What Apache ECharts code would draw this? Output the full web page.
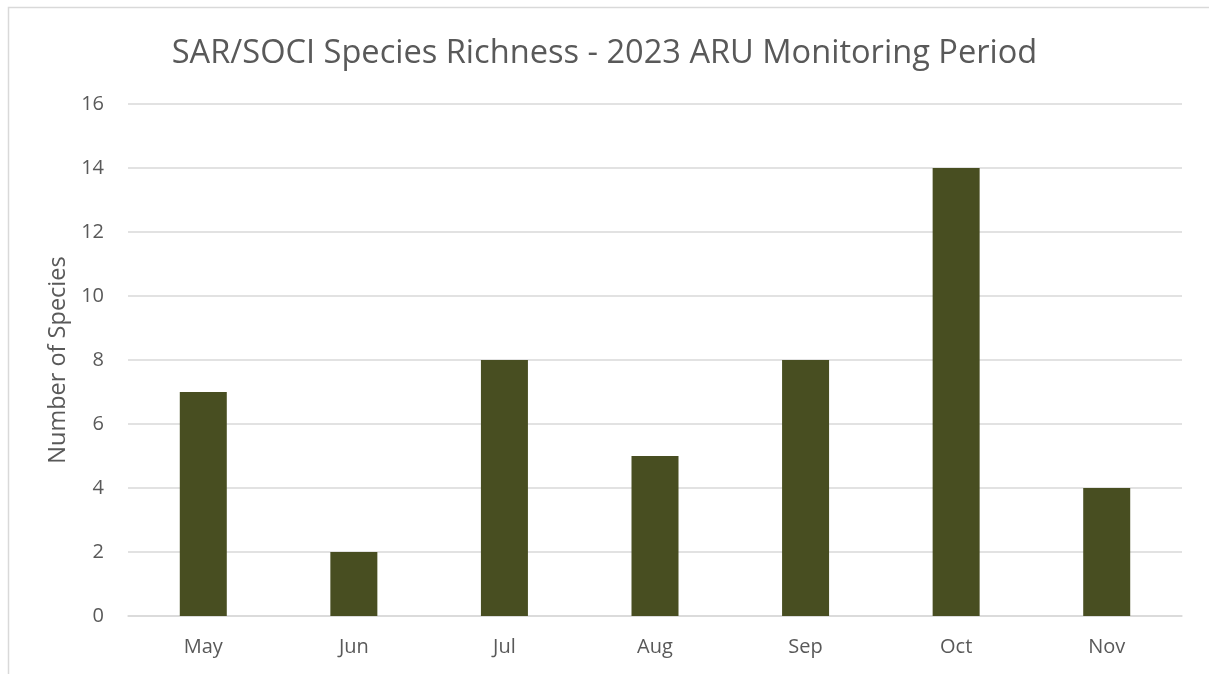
<!DOCTYPE html>
<html>
<head>
<meta charset="utf-8">
<script src="https://cdn.jsdelivr.net/npm/echarts@6/dist/echarts.min.js"></script>
<style>
html,body{margin:0;padding:0;background:#fff;}
#chart{width:1209px;height:674px;}
</style>
</head>
<body>
<div id="chart"></div>
<script>
// Monthly SAR/SOCI species counts
const months = ['May', 'Jun', 'Jul', 'Aug', 'Sep', 'Oct', 'Nov'];
const speciesCounts = [7, 2, 8, 5, 8, 14, 4];
const yTicks = { min: 0, max: 16, interval: 2 };

const textColor = '#595959';
const fontFamily = 'Open Sans, Liberation Sans, sans-serif';

const chart = echarts.init(document.getElementById('chart'));
chart.setOption({
  animation: false,
  backgroundColor: '#ffffff',
  graphic: [{
    type: 'rect',
    left: 6, top: 5,
    shape: { width: 1260, height: 720 },
    style: { fill: 'none', stroke: '#d9d9d9', lineWidth: 1.5 },
    silent: true
  }],
  title: {
    text: 'SAR/SOCI Species Richness - 2023 ARU Monitoring Period',
    left: 'center',
    top: 32,
    textStyle: { color: textColor, fontSize: 32.6, fontWeight: 'normal', fontFamily: fontFamily }
  },
  grid: { left: 128, right: 27, top: 104, bottom: 58 },
  xAxis: {
    type: 'category',
    data: months,
    axisLine: { show: true, lineStyle: { color: '#d9d9d9', width: 1.5 } },
    axisTick: { show: false },
    axisLabel: { color: textColor, fontSize: 20, fontFamily: fontFamily, margin: 21 }
  },
  yAxis: {
    type: 'value',
    min: yTicks.min, max: yTicks.max, interval: yTicks.interval,
    name: 'Number of Species',
    nameLocation: 'middle',
    nameGap: 57,
    nameTextStyle: { color: textColor, fontSize: 23.5, fontFamily: fontFamily },
    axisLine: { show: false },
    axisTick: { show: false },
    axisLabel: { color: textColor, fontSize: 20, fontFamily: fontFamily, margin: 24 },
    splitLine: { lineStyle: { color: '#d9d9d9', width: 1.5 } }
  },
  series: [{
    type: 'bar',
    data: speciesCounts,
    barWidth: 47,
    itemStyle: { color: '#484E21' }
  }]
});
</script>
</body>
</html>
